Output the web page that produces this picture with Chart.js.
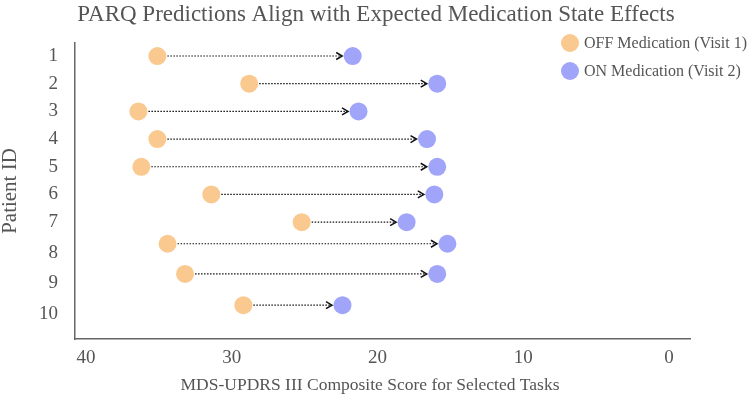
<!DOCTYPE html>
<html>
<head>
<meta charset="utf-8">
<title>PARQ Predictions</title>
<script src="https://cdn.jsdelivr.net/npm/chart.js@4.4.1/dist/chart.umd.min.js"></script>
<style>
    body { margin: 0; background: #fff; }
    #canvas-holder { width: 752px; height: 403px; }
</style>
</head>
<body>
<div id="canvas-holder"><canvas id="myChart" width="752" height="403"></canvas></div>
<script>

// patient ids on the y axis
const patients = ["1", "2", "3", "4", "5", "6", "7", "8", "9", "10"];
// vertical position of each patient's markers
const rowPos = [1, 2, 3, 4, 5, 6, 7, 7.78, 8.87, 10];
// vertical position of each patient id label
const labelPos = [1, 2, 3, 4, 5, 6, 7, 8.11, 9.2, 10.32];

// composite scores
const offScores = [35.1, 28.8, 36.4, 35.1, 36.2, 31.4, 25.2, 34.4, 33.2, 29.2];
const onScores = [21.7, 15.9, 21.3, 16.6, 15.9, 16.1, 18.0, 15.2, 15.9, 22.4];

const xTicks = [40, 30, 20, 10, 0];

const seriesNames = ["OFF Medication (Visit 1)", "ON Medication (Visit 2)"];
const seriesColors = ["#f9c98f", "#a0a5f9"];

const titleText = "PARQ Predictions Align with Expected Medication State Effects";
const xTitle = "MDS-UPDRS III Composite Score for Selected Tasks";
const yTitle = "Patient ID";

const serif = "'Liberation Serif', 'Times New Roman', serif";
const textColor = "#555";
const dotRadius = 9;


function toPoints(scores){
    let pts = [];
    for(let i = 0; i < scores.length; i++){
        pts.push({x: scores[i], y: rowPos[i]});
    }
    return pts;
}


//dotted arrows OFF -> ON, titles and legend
const extrasPlugin = {
    id: "extras",
    afterDatasetsDraw(chart){
        const ctx = chart.ctx;
        const xs = chart.scales.x;
        const ys = chart.scales.y;

        ctx.save();
        ctx.strokeStyle = "#111";
        for(let i = 0; i < patients.length; i++){
            const x1 = xs.getPixelForValue(offScores[i]);
            const x2 = xs.getPixelForValue(onScores[i]);
            const y = ys.getPixelForValue(rowPos[i]);
            const dir = x2 > x1 ? 1 : -1;
            const start = x1 + dir * (dotRadius + 1);
            const tip = x2 - dir * (dotRadius + 1.5);

            ctx.lineWidth = 1.2;
            ctx.setLineDash([1.5, 1.5]);
            ctx.beginPath();
            ctx.moveTo(start, y);
            ctx.lineTo(tip - dir, y);
            ctx.stroke();

            ctx.setLineDash([]);
            ctx.lineWidth = 1.5;
            ctx.beginPath();
            ctx.moveTo(tip - dir * 6, y - 3.5);
            ctx.lineTo(tip, y);
            ctx.lineTo(tip - dir * 6, y + 3.5);
            ctx.stroke();
        }
        ctx.restore();
    },
    afterDraw(chart){
        const ctx = chart.ctx;
        ctx.save();

        ctx.fillStyle = textColor;
        ctx.textAlign = "center";
        ctx.textBaseline = "middle";
        ctx.font = "23px " + serif;
        ctx.fillText(titleText, chart.width / 2, 15);

        ctx.font = "17.5px " + serif;
        ctx.fillText(xTitle, 370, 385);

        // legend, top right
        ctx.font = "16px " + serif;
        ctx.textAlign = "left";
        for(let i = 0; i < seriesNames.length; i++){
            const ly = 43 + i * 28;
            ctx.fillStyle = seriesColors[i];
            ctx.beginPath();
            ctx.arc(570, ly, dotRadius, 0, Math.PI * 2);
            ctx.fill();
            ctx.fillStyle = textColor;
            ctx.fillText(seriesNames[i], 584, ly + 1);
        }
        ctx.restore();
    }
};


const ctx = document.getElementById("myChart").getContext("2d");

const myChart = new Chart(ctx, {
    type: "scatter",
    data: {
        datasets: [{
            label: seriesNames[0],
            data: toPoints(offScores),
            backgroundColor: seriesColors[0],
            borderWidth: 0,
            pointRadius: dotRadius,
            pointHoverRadius: dotRadius
        }, {
            label: seriesNames[1],
            data: toPoints(onScores),
            backgroundColor: seriesColors[1],
            borderWidth: 0,
            pointRadius: dotRadius,
            pointHoverRadius: dotRadius
        }]
    },
    options: {
        responsive: false,
        animation: false,
        devicePixelRatio: 1,
        layout: {
            padding: {top: 43, right: 62, bottom: 0, left: 0}
        },
        plugins: {
            legend: {display: false},
            title: {display: false},
            tooltip: {enabled: false}
        },
        scales: {
            x: {
                type: "linear",
                reverse: true,
                min: -1.44,
                max: 40.75,
                grid: {display: false, drawTicks: false},
                border: {display: true, color: "#666", width: 1.5},
                afterBuildTicks: (scale) => {
                    scale.ticks = xTicks.map(v => ({value: v}));
                },
                afterFit: (scale) => {
                    scale.height = 64;
                },
                ticks: {
                    padding: 8,
                    color: textColor,
                    font: {family: serif, size: 19}
                }
            },
            y: {
                type: "linear",
                reverse: true,
                min: 0.53,
                max: 11.22,
                grid: {display: false, drawTicks: false},
                border: {display: true, color: "#666", width: 1.5},
                afterBuildTicks: (scale) => {
                    scale.ticks = labelPos.map(v => ({value: v}));
                },
                afterFit: (scale) => {
                    scale.width = 75;
                },
                ticks: {
                    padding: 17,
                    color: textColor,
                    font: {family: serif, size: 19},
                    callback: (value, index) => patients[index]
                },
                title: {
                    display: true,
                    text: yTitle,
                    color: textColor,
                    font: {family: serif, size: 21, lineHeight: 1},
                    padding: {top: 0, bottom: 0}
                }
            }
        }
    },
    plugins: [extrasPlugin]
});

</script>
</body>
</html>
